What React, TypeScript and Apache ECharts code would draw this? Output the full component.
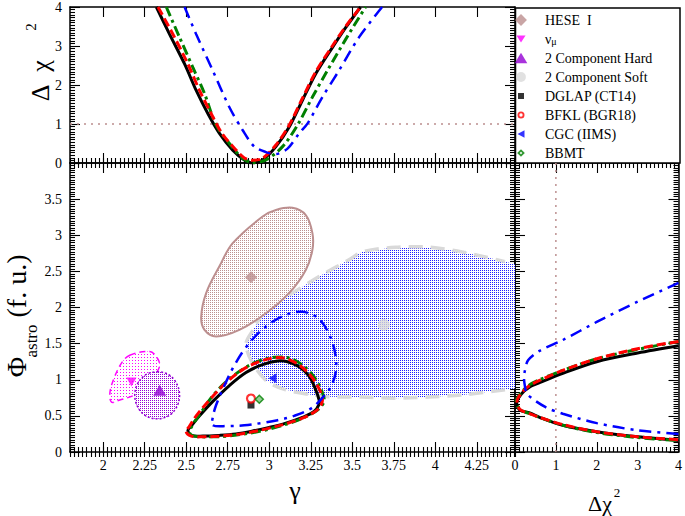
import React, { useEffect, useRef } from 'react';
import * as echarts from 'echarts';

type P = [number, number];

const FONT = "'Liberation Serif', 'Times New Roman', Times, serif";

// ---- axes ----
const gammaMin = 1.8;
const gammaMax = 4.48;
const gammaMajorTicks = [2, 2.25, 2.5, 2.75, 3, 3.25, 3.5, 3.75, 4, 4.25];
const gammaMinorStep = 0.025;
const chiMax = 4;
const phiMax = 4;

// ---- legend ----
const legendNames = ['HESE  I', 'ν_μ', '2 Component Hard', '2 Component Soft', 'DGLAP (CT14)', 'BFKL (BGR18)', 'CGC (IIMS)', 'BBMT'];

// ---- top panel: Δχ² vs γ ----
const topDGLAP: P[] = [[2.32, 4.0], [2.40, 3.30], [2.49, 2.54], [2.56, 1.86], [2.63, 1.27], [2.70, 0.76], [2.78, 0.33], [2.85, 0.08], [2.90, 0.0], [2.96, 0.08], [3.04, 0.42], [3.12, 0.92], [3.20, 1.61], [3.28, 2.29], [3.38, 2.96], [3.46, 3.47], [3.55, 4.0]];
const topBFKL: P[] = [[2.33, 4.0], [2.42, 3.30], [2.51, 2.54], [2.58, 1.86], [2.65, 1.27], [2.715, 0.76], [2.79, 0.38], [2.85, 0.13], [2.90, 0.07], [2.96, 0.12], [3.04, 0.46], [3.12, 0.97], [3.20, 1.66], [3.28, 2.34], [3.38, 3.0], [3.46, 3.5], [3.55, 4.0]];
const topBBMT: P[] = [[2.38, 4.0], [2.46, 3.22], [2.54, 2.45], [2.61, 1.78], [2.68, 0.97], [2.76, 0.50], [2.84, 0.12], [2.90, 0.01], [2.98, 0.08], [3.08, 0.42], [3.17, 0.97], [3.26, 1.69], [3.35, 2.37], [3.46, 3.17], [3.58, 4.0]];
const topCGC: P[] = [[2.49, 4.0], [2.56, 3.30], [2.66, 2.37], [2.76, 1.43], [2.84, 0.84], [2.91, 0.42], [2.98, 0.28], [3.04, 0.23], [3.11, 0.37], [3.18, 0.76], [3.23, 1.01], [3.32, 1.69], [3.42, 2.37], [3.54, 3.22], [3.68, 4.0]];
const topChi1: P[] = [[gammaMin, 1], [gammaMax, 1]];

// ---- main panel: Φ vs γ regions ----
const heseRegion: P[] = [[2.59, 1.87], [2.62, 2.20], [2.70, 2.57], [2.78, 2.89], [2.96, 3.26], [3.04, 3.35], [3.14, 3.38], [3.22, 3.28], [3.26, 3.03], [3.26, 2.80], [3.22, 2.52], [3.12, 2.20], [2.98, 1.92], [2.82, 1.69], [2.68, 1.60], [2.61, 1.69]];
const numuRegion: P[] = [[2.16, 1.34], [2.28, 1.39], [2.32, 1.32], [2.34, 1.20], [2.31, 1.06], [2.25, 0.90], [2.19, 0.79], [2.10, 0.72], [2.05, 0.69], [2.04, 0.81], [2.06, 0.99], [2.11, 1.23]];
const hardRegion: P[] = [[2.325, 1.11], [2.394, 1.07], [2.442, 0.95], [2.46, 0.786], [2.442, 0.62], [2.394, 0.50], [2.325, 0.46], [2.256, 0.50], [2.208, 0.62], [2.19, 0.786], [2.208, 0.95], [2.256, 1.07]];
const softBorder: P[] = [[4.42, 0.86], [4.16, 0.79], [3.96, 0.76], [3.76, 0.745], [3.56, 0.76], [3.36, 0.765], [3.26, 0.79], [3.10, 0.86], [2.98, 0.99], [2.89, 1.27], [2.86, 1.50], [2.90, 1.68], [2.98, 1.97], [3.14, 2.20], [3.30, 2.43], [3.48, 2.66], [3.56, 2.77], [3.76, 2.835], [3.96, 2.835], [4.16, 2.77], [4.42, 2.635]];
const softEdge: P[] = [[4.48, 2.60], [4.48, 0.88]];

// ---- main panel: model contours ----
const mainDGLAP: P[] = [[2.51, 0.30], [2.53, 0.23], [2.60, 0.22], [2.70, 0.23], [2.80, 0.25], [2.90, 0.29], [3.00, 0.34], [3.10, 0.40], [3.20, 0.48], [3.27, 0.56], [3.30, 0.66], [3.30, 0.72], [3.28, 0.86], [3.24, 1.05], [3.18, 1.18], [3.11, 1.25], [3.05, 1.26], [2.96, 1.21], [2.86, 1.10], [2.76, 0.92], [2.66, 0.70], [2.58, 0.50], [2.53, 0.36]];
const mainBFKL: P[] = [[2.50, 0.28], [2.53, 0.22], [2.60, 0.21], [2.70, 0.22], [2.80, 0.24], [2.90, 0.28], [3.00, 0.33], [3.10, 0.39], [3.20, 0.47], [3.27, 0.55], [3.31, 0.64], [3.32, 0.75], [3.29, 0.92], [3.24, 1.08], [3.17, 1.22], [3.09, 1.30], [3.02, 1.30], [2.94, 1.25], [2.84, 1.14], [2.74, 0.96], [2.64, 0.72], [2.56, 0.50], [2.52, 0.36]];
const mainBBMT: P[] = [[2.52, 0.27], [2.55, 0.22], [2.65, 0.21], [2.75, 0.22], [2.85, 0.25], [2.95, 0.29], [3.05, 0.35], [3.15, 0.42], [3.23, 0.50], [3.29, 0.58], [3.33, 0.70], [3.32, 0.82], [3.29, 0.97], [3.24, 1.12], [3.17, 1.25], [3.10, 1.31], [3.03, 1.31], [2.95, 1.27], [2.85, 1.16], [2.75, 0.99], [2.66, 0.78], [2.59, 0.55], [2.54, 0.38]];
const mainCGC: P[] = [[2.66, 0.37], [2.75, 0.36], [2.85, 0.37], [2.95, 0.40], [3.05, 0.44], [3.15, 0.50], [3.25, 0.60], [3.32, 0.75], [3.37, 0.90], [3.40, 1.10], [3.40, 1.32], [3.37, 1.58], [3.30, 1.84], [3.20, 1.94], [3.08, 1.88], [2.96, 1.70], [2.86, 1.45], [2.79, 1.20], [2.73, 0.92], [2.68, 0.65], [2.66, 0.48]];

// ---- best fit points ----
const bestHESE: P = [2.89, 2.42];
const bestNumu: P = [2.17, 0.97];
const bestHard: P = [2.34, 0.855];
const bestSoft: P = [3.69, 1.76];
const bestDGLAP: P = [2.89, 0.65];
const bestBFKL: P = [2.89, 0.74];
const bestCGC: P = [3.02, 1.02];
const bestBBMT: P = [2.94, 0.73];

// ---- right panel: Φ vs Δχ² ----
const rightDGLAP: P[] = [[4, 1.47], [3, 1.37], [2, 1.25], [1.17, 1.09], [0.6, 0.96], [0.36, 0.90], [0.15, 0.80], [0.04, 0.67], [0.12, 0.58], [0.36, 0.54], [0.6, 0.48], [1.17, 0.37], [2, 0.28], [3, 0.21], [4, 0.16]];
const rightBFKL: P[] = [[4, 1.53], [3, 1.43], [2, 1.29], [1.17, 1.13], [0.6, 0.99], [0.36, 0.92], [0.15, 0.81], [0.05, 0.70], [0.12, 0.59], [0.36, 0.53], [0.6, 0.48], [1.17, 0.38], [2, 0.28], [3, 0.21], [4, 0.17]];
const rightBBMT: P[] = [[4, 1.53], [3, 1.42], [2, 1.29], [1.17, 1.13], [0.6, 1.00], [0.36, 0.93], [0.15, 0.82], [0.03, 0.70], [0.12, 0.59], [0.36, 0.53], [0.6, 0.48], [1.17, 0.37], [2, 0.27], [3, 0.20], [4, 0.16]];
const rightCGC: P[] = [[4, 2.34], [3, 2.08], [2, 1.80], [1.17, 1.55], [0.6, 1.40], [0.32, 1.27], [0.24, 1.12], [0.22, 1.03], [0.24, 0.92], [0.3, 0.80], [0.75, 0.62], [1.17, 0.53], [2, 0.40], [3, 0.30], [4, 0.25]];
const rightChi1: P[] = [[1, 0], [1, phiMax]];

// ---- colours ----
const C_HESE = '#bc8f8f';
const C_NUMU = '#ff00ff';
const C_HARD = '#9400d3';
const C_SOFT = '#d9d9d9';
const C_DGLAP = '#000000';
const C_BFKL = '#ff0000';
const C_CGC = '#0000ff';
const C_BBMT = '#008000';

function dots(color: string, step: number) {
  const c = document.createElement('canvas');
  c.width = step;
  c.height = step;
  const ctx = c.getContext('2d')!;
  ctx.fillStyle = '#ffffff';
  ctx.fillRect(0, 0, step, step);
  ctx.fillStyle = color;
  ctx.fillRect(0, 0, 1, 1);
  return { image: c, repeat: 'repeat', imageWidth: step, imageHeight: step };
}

const axisLineStyle = { color: '#000', width: 1.5 };
const tickStyle = { color: '#000', width: 1.1 };
const labelStyle = { color: '#000', fontFamily: FONT, fontSize: 14 };

function gammaAxes(gridIndex: number, position: 'top' | 'bottom', labels: boolean) {
  return [
    {
      type: 'value', gridIndex, position, min: gammaMin, max: gammaMax,
      axisLine: { show: true, onZero: false, lineStyle: axisLineStyle },
      axisTick: { show: true, inside: true, length: 10, customValues: gammaMajorTicks, lineStyle: tickStyle },
      axisLabel: labels ? { show: true, customValues: gammaMajorTicks, margin: 6, ...labelStyle } : { show: false },
      splitLine: { show: false }, minorTick: { show: false },
    },
    {
      type: 'value', gridIndex, position, min: gammaMin, max: gammaMax, interval: gammaMinorStep,
      axisLine: { show: false },
      axisTick: { show: true, inside: true, length: 5, lineStyle: tickStyle },
      axisLabel: { show: false }, splitLine: { show: false },
    },
  ];
}

function valueAxis(gridIndex: number, position: string, max: number, interval: number, minorSplit: number, labels: boolean, margin: number, formatter?: (v: number) => string) {
  return {
    type: 'value', gridIndex, position, min: 0, max, interval,
    axisLine: { show: true, onZero: false, lineStyle: axisLineStyle },
    axisTick: { show: true, inside: true, length: 10, lineStyle: tickStyle },
    minorTick: { show: true, splitNumber: minorSplit, length: 5, lineStyle: tickStyle },
    axisLabel: labels ? { show: true, margin, formatter, ...labelStyle } : { show: false },
    splitLine: { show: false },
  };
}

function lineSeries(data: P[], xi: number, yi: number, color: string, width: number, type: any, z: number, smooth: number | boolean = 0.3) {
  return {
    type: 'line', data, xAxisIndex: xi, yAxisIndex: yi, showSymbol: false, symbol: 'none', smooth,
    lineStyle: { color, width, type }, silent: true, z, clip: true,
  };
}

function polySeries(pts: P[], xi: number, yi: number, style: any, z: number, smooth = 0.35, closed = true) {
  return {
    type: 'custom', coordinateSystem: 'cartesian2d', xAxisIndex: xi, yAxisIndex: yi,
    data: [pts[0]], silent: true, z,
    renderItem: (_p: any, api: any) => ({
      type: closed ? 'polygon' : 'polyline',
      shape: { points: pts.map((p) => api.coord(p)), smooth },
      style,
    }),
  };
}

function scatter(name: string, pt: P, symbol: string, size: number | number[], itemStyle: any) {
  return { type: 'scatter', name, data: [pt], xAxisIndex: 4, yAxisIndex: 2, symbol, symbolSize: size, itemStyle, z: 20, silent: true };
}

const PAD = 'M0,0 M20,20 ';
const legendIcons: Record<string, { icon: string; color: string }> = {
  'HESE  I': { icon: 'path://' + PAD + 'M10,1.5 L18.5,10 L10,18.5 L1.5,10 Z', color: C_HESE },
  'ν_μ': { icon: 'path://' + PAD + 'M3.5,5 L16.5,5 L10,15 Z', color: C_NUMU },
  '2 Component Hard': { icon: 'path://' + PAD + 'M1,17.5 L19,17.5 L10,2.5 Z', color: C_HARD },
  '2 Component Soft': { icon: 'path://' + PAD + 'M3,10 A7,7 0 1,0 17,10 A7,7 0 1,0 3,10 Z', color: C_SOFT },
  'DGLAP (CT14)': { icon: 'path://' + PAD + 'M5.7,5.7 L14.3,5.7 L14.3,14.3 L5.7,14.3 Z', color: C_DGLAP },
  'BFKL (BGR18)': { icon: 'path://' + PAD + 'M5,10 A5,5 0 1,0 15,10 A5,5 0 1,0 5,10 Z M7.6,10 A2.4,2.4 0 1,1 12.4,10 A2.4,2.4 0 1,1 7.6,10 Z', color: C_BFKL },
  'CGC (IIMS)': { icon: 'path://' + PAD + 'M15,4.5 L15,15.5 L5,10 Z', color: C_CGC },
  'BBMT': { icon: 'path://' + PAD + 'M10,4.5 L15.5,10 L10,15.5 L4.5,10 Z M10,8.2 L8.2,10 L10,11.8 L11.8,10 Z', color: C_BBMT },
};

function txt(text: string, x: number, y: number, size: number, rotate = false) {
  return {
    type: 'text', x, y, rotation: rotate ? Math.PI / 2 : 0, silent: true,
    style: { text, font: `${size}px ${FONT}`, fill: '#000', textAlign: 'center', textVerticalAlign: 'middle' },
  };
}

function buildOption() {
  const heseFill = dots(C_HESE, 2);
  const softFill = dots('#2020ff', 2);
  const numuFill = dots(C_NUMU, 3);
  const hardFill = dots(C_HARD, 2);

  const xAxis = [
    ...gammaAxes(0, 'bottom', false), // 0,1
    ...gammaAxes(0, 'top', false), // 2,3
    ...gammaAxes(1, 'bottom', true), // 4,5
    ...gammaAxes(1, 'top', false), // 6,7
    valueAxis(2, 'bottom', chiMax, 1, 10, true, 6), // 8
    valueAxis(2, 'top', chiMax, 1, 10, false, 6), // 9
  ];
  const yAxis = [
    valueAxis(0, 'left', chiMax, 1, 15, true, 8), // 0
    valueAxis(0, 'right', chiMax, 1, 15, false, 8), // 1
    valueAxis(1, 'left', phiMax, 0.5, 15, true, 8, (v: number) => (v >= phiMax ? '' : String(v))), // 2
    valueAxis(1, 'right', phiMax, 0.5, 15, false, 8), // 3
    valueAxis(2, 'left', phiMax, 0.5, 15, false, 8), // 4
    valueAxis(2, 'right', phiMax, 0.5, 15, false, 8), // 5
  ];

  const dashRed = [9, 4];
  const dashGreen = [10, 4, 3, 4];
  const dashBlue = [12, 6, 3, 6];

  const series: any[] = [
    // top panel
    lineSeries(topChi1, 0, 0, C_HESE, 1.5, [2, 5], 3, false),
    lineSeries(topDGLAP, 0, 0, C_DGLAP, 3, 'solid', 4),
    lineSeries(topBBMT, 0, 0, C_BBMT, 3, dashGreen, 5),
    lineSeries(topBFKL, 0, 0, C_BFKL, 3, dashRed, 6),
    lineSeries(topCGC, 0, 0, C_CGC, 2.5, dashBlue, 7),

    // main panel regions
    polySeries([...softBorder, ...softEdge], 4, 2, { fill: softFill, stroke: 'none' }, 2, 0),
    polySeries(softBorder, 4, 2, { fill: 'none', stroke: C_SOFT, lineWidth: 3.5, lineDash: [14, 8] }, 3, 0.3, false),
    polySeries(heseRegion, 4, 2, { fill: heseFill, stroke: C_HESE, lineWidth: 2 }, 4),
    polySeries(numuRegion, 4, 2, { fill: numuFill, stroke: C_NUMU, lineWidth: 1.5, lineDash: [6, 4] }, 4),
    polySeries(hardRegion, 4, 2, { fill: hardFill, stroke: C_HARD, lineWidth: 1.5, lineDash: [2, 2] }, 5),

    // main panel model contours
    polySeries(mainDGLAP, 4, 2, { fill: 'none', stroke: C_DGLAP, lineWidth: 3 }, 10),
    polySeries(mainBBMT, 4, 2, { fill: 'none', stroke: C_BBMT, lineWidth: 3, lineDash: dashGreen }, 11),
    polySeries(mainBFKL, 4, 2, { fill: 'none', stroke: C_BFKL, lineWidth: 3, lineDash: dashRed }, 12),
    polySeries(mainCGC, 4, 2, { fill: 'none', stroke: C_CGC, lineWidth: 2.5, lineDash: dashBlue }, 13),

    // best fit markers
    scatter('HESE  I', bestHESE, 'diamond', 12, { color: C_HESE }),
    scatter('ν_μ', bestNumu, 'path://M0,0 L10,0 L5,9 Z', [10, 9], { color: C_NUMU }),
    scatter('2 Component Hard', bestHard, 'triangle', [13, 11], { color: C_HARD }),
    scatter('2 Component Soft', bestSoft, 'circle', 12, { color: C_SOFT }),
    scatter('DGLAP (CT14)', bestDGLAP, 'rect', 7, { color: C_DGLAP }),
    scatter('BFKL (BGR18)', bestBFKL, 'circle', 8, { color: '#ffffff', borderColor: C_BFKL, borderWidth: 2.2 }),
    scatter('CGC (IIMS)', bestCGC, 'path://M10,0 L10,10 L0,5 Z', [8, 10], { color: C_CGC }),
    scatter('BBMT', bestBBMT, 'diamond', 8, { color: '#7cc47c', borderColor: C_BBMT, borderWidth: 1.5 }),

    // right panel
    lineSeries(rightChi1, 8, 4, C_HESE, 1.5, [2, 5], 3, false),
    lineSeries(rightDGLAP, 8, 4, C_DGLAP, 3, 'solid', 4),
    lineSeries(rightBBMT, 8, 4, C_BBMT, 3, dashGreen, 5),
    lineSeries(rightBFKL, 8, 4, C_BFKL, 3, dashRed, 6),
    lineSeries(rightCGC, 8, 4, C_CGC, 2.5, dashBlue, 7),
  ];

  return {
    animation: false,
    backgroundColor: '#ffffff',
    textStyle: { fontFamily: FONT },
    grid: [
      { left: 70, top: 6, width: 445, height: 157 },
      { left: 70, top: 163, width: 445, height: 289 },
      { left: 515, top: 163, width: 165, height: 289 },
    ],
    xAxis,
    yAxis,
    legend: {
      orient: 'vertical', left: 514, top: 13, padding: 0, itemGap: 5,
      itemWidth: 38, itemHeight: 14, selectedMode: false,
      data: legendNames.map((n) => ({ name: n, icon: legendIcons[n].icon, itemStyle: { color: legendIcons[n].color, borderWidth: 0 } })),
      formatter: (n: string) => (n === 'ν_μ' ? '{nu|ν}{mu|μ}' : n),
      textStyle: {
        fontFamily: FONT, fontSize: 14, color: '#000', lineHeight: 14,
        rich: {
          nu: { fontFamily: FONT, fontSize: 14, lineHeight: 14, verticalAlign: 'top', color: '#000' },
          mu: { fontFamily: FONT, fontSize: 10, lineHeight: 10, verticalAlign: 'bottom', color: '#000' },
        },
      },
      z: 10,
    },
    graphic: [
      { type: 'rect', shape: { x: 515.5, y: 8, width: 164.5, height: 155 }, style: { fill: '#ffffff', stroke: '#000', lineWidth: 1.5 }, z: 1, silent: true },
      txt('γ', 295, 490, 26),
      txt('Δχ', 600, 503, 22),
      txt('2', 617, 492, 13),
      txt('Δ', 40, 93, 26, true),
      txt('χ', 40, 66, 26, true),
      txt('2', 31, 27, 15, true),
      txt('Φ', 16, 367, 28, true),
      txt('astro', 31, 341, 17, true),
      txt('(f. u.)', 16, 286, 28, true),
    ],
    series,
  };
}

export default function App() {
  const ref = useRef<HTMLDivElement>(null);
  useEffect(() => {
    document.body.style.margin = '0';
    const chart = echarts.init(ref.current!, null, { renderer: 'svg' });
    chart.setOption(buildOption() as any);
    return () => chart.dispose();
  }, []);
  return <div ref={ref} style={{ position: 'fixed', left: 0, top: 0, width: 685, height: 516, background: '#fff' }} />;
}
